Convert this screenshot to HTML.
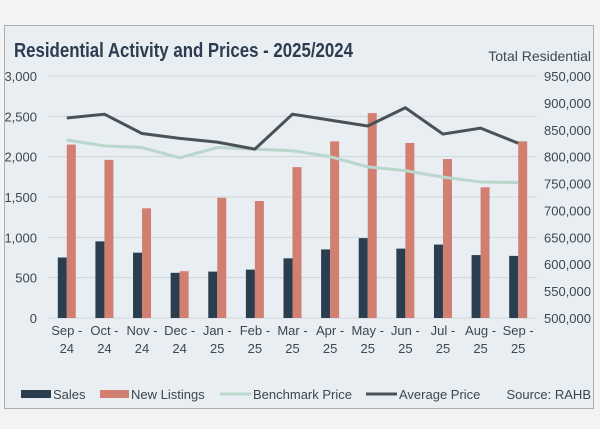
<!DOCTYPE html>
<html><head><meta charset="utf-8"><style>
html,body{margin:0;padding:0;background:#f3f3f3;width:600px;height:429px;overflow:hidden}
svg{display:block;font-family:"Liberation Sans","DejaVu Sans",sans-serif}
</style></head><body>
<svg id="c" width="600" height="429">
<rect x="4.5" y="25.5" width="589" height="383" fill="#e9eef2" stroke="#a7b0b5"/>
<text x="14" y="57" font-size="20" font-weight="bold" fill="#2b3d4f" textLength="339" lengthAdjust="spacingAndGlyphs">Residential Activity and Prices - 2025/2024</text>
<text x="591" y="61" text-anchor="end" font-size="14" fill="#3d4750">Total Residential</text>
<g id="grid"></g><g id="bars"></g><g id="lines"></g><g id="axes"></g>
<g font-size="13" fill="#3d4750">
<rect x="21" y="390" width="30" height="8" fill="#2a3e4f"/>
<text x="53" y="399">Sales</text>
<rect x="100" y="390" width="29" height="8" fill="#d17f71"/>
<text x="131" y="399">New Listings</text>
<line x1="220" y1="394" x2="251" y2="394" stroke="#b9d7cc" stroke-width="3"/>
<text x="253" y="399">Benchmark Price</text>
<line x1="366" y1="394" x2="397" y2="394" stroke="#4b5257" stroke-width="3"/>
<text x="399" y="399">Average Price</text>
<text x="591" y="399" text-anchor="end">Source: RAHB</text>
</g>
</svg>
<script>
const categories=[["Sep -","24"],["Oct -","24"],["Nov -","24"],["Dec -","24"],["Jan -","25"],["Feb -","25"],["Mar -","25"],["Apr -","25"],["May -","25"],["Jun -","25"],["Jul -","25"],["Aug -","25"],["Sep -","25"]];
const sales=[750,950,810,560,575,600,740,850,990,860,910,780,770];
const newListings=[2150,1960,1360,580,1490,1450,1870,2190,2540,2170,1970,1620,2190];
const benchmark=[831000,820000,817000,798000,817000,814000,811000,800000,781000,774000,762000,753000,752000];
const average=[872000,879000,843000,834000,827000,814000,879000,868000,857000,891000,842000,853000,825000];
const leftTicks=[0,500,1000,1500,2000,2500,3000];
const rightTicks=[500000,550000,600000,650000,700000,750000,800000,850000,900000,950000];
const NS="http://www.w3.org/2000/svg";
const X0=48,X1=537,YT=76,YB=318;
const step=(X1-X0)/categories.length;
const cx=i=>X0+step*(i+0.5);
const yl=v=>YB-(v/3000)*(YB-YT);
const yr=v=>YB-((v-500000)/450000)*(YB-YT);
function mk(tag,attrs,parent){const e=document.createElementNS(NS,tag);for(const k in attrs)e.setAttribute(k,attrs[k]);document.getElementById(parent).appendChild(e);return e;}
leftTicks.forEach(t=>{
 const l=mk('line',{x1:X0,x2:X1,y1:yl(t),y2:yl(t),stroke:'#cfd5da','stroke-width':1},'grid');
 
 
 const tx=mk('text',{x:37,y:yl(t)+5,'text-anchor':'end','font-size':13,fill:'#3d4750'},'axes');
 tx.textContent=t.toLocaleString('en-US');
 
 
});
rightTicks.forEach(t=>{
 const tx=mk('text',{x:591,y:yr(t)+5,'text-anchor':'end','font-size':13,fill:'#3d4750'},'axes');
 tx.textContent=t.toLocaleString('en-US');
 
 
});
categories.forEach((c,i)=>{
 const b1=mk('rect',{x:cx(i)-9,y:yl(sales[i]),width:9,height:YB-yl(sales[i]),fill:'#2a3e4f'},'bars');
 
 
 const b2=mk('rect',{x:cx(i),y:yl(newListings[i]),width:9,height:YB-yl(newListings[i]),fill:'#d17f71'},'bars');
 
 
 c.forEach((s,j)=>{
  const tx=mk('text',{x:cx(i),y:335+j*18,'text-anchor':'middle','font-size':13,fill:'#3d4750'},'axes');
  tx.textContent=s;
  
  
 });
});
const p1=mk('polyline',{points:benchmark.map((v,i)=>cx(i)+','+yr(v)).join(' '),fill:'none',stroke:'#b9d7cc','stroke-width':3,'stroke-linejoin':'round'},'lines');


const p2=mk('polyline',{points:average.map((v,i)=>cx(i)+','+yr(v)).join(' '),fill:'none',stroke:'#4b5257','stroke-width':3,'stroke-linejoin':'round'},'lines');


</script>
</body></html>
